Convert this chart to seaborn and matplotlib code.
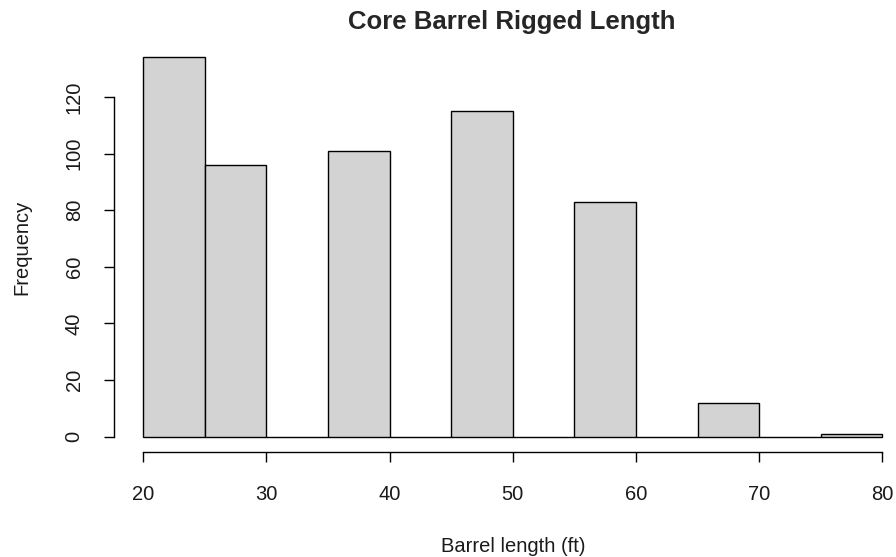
import numpy as np
import pandas as pd
import seaborn as sns
import matplotlib.pyplot as plt

# histogram bins (ft) and counts
bin_edges = [20, 25, 30, 35, 40, 45, 50, 55, 60, 65, 70, 75, 80]
counts = [134, 96, 0, 101, 0, 115, 0, 83, 0, 12, 0, 1]
x_ticks = [20, 30, 40, 50, 60, 70, 80]
y_ticks = [0, 20, 40, 60, 80, 100, 120]

mids = [(a + b) / 2 for a, b in zip(bin_edges[:-1], bin_edges[1:])]
df = pd.DataFrame({'length': mids, 'n': counts})

sns.set_style('white')
plt.rcParams['font.family'] = ['Liberation Sans', 'DejaVu Sans']

fig = plt.figure(figsize=(8.96, 5.57), dpi=100)
ax = fig.add_axes([113.5 / 896, 1 - 452 / 557, (912 - 113.5) / 896, (452 - 42) / 557])

sns.histplot(data=df, x='length', weights='n', bins=bin_edges, ax=ax,
             color='#d3d3d3', edgecolor='black', linewidth=1.0, alpha=1)

ax.set_xlim(17.6, 82.4)
ax.set_ylim(-5.36, 139.36)
for s in ['top', 'right']:
    ax.spines[s].set_visible(False)
for s in ['left', 'bottom']:
    ax.spines[s].set_color('black')
    ax.spines[s].set_linewidth(1.0)
ax.spines['left'].set_bounds(0, 120)
ax.spines['bottom'].set_bounds(20, 80)

ax.set_xticks(x_ticks)
ax.set_yticks(y_ticks)
ax.tick_params(axis='both', direction='out', length=7.5, width=1, color='black',
               labelsize=14.5, labelcolor='#1a1a1a', bottom=True, left=True)
ax.tick_params(axis='x', pad=16)
ax.tick_params(axis='y', pad=14)
for lab in ax.get_yticklabels():
    lab.set_rotation(90)
    lab.set_va('center')

ax.set_xlabel('Barrel length (ft)', fontsize=14.5, color='#1a1a1a', labelpad=24)
ax.set_ylabel('Frequency', fontsize=14.5, color='#1a1a1a', labelpad=24)
fig.text(512 / 896, 1 - 22.5 / 557, 'Core Barrel Rigged Length', ha='center', va='center',
         fontsize=18.5, fontweight='bold')

fig.savefig('out.png', dpi=100)
